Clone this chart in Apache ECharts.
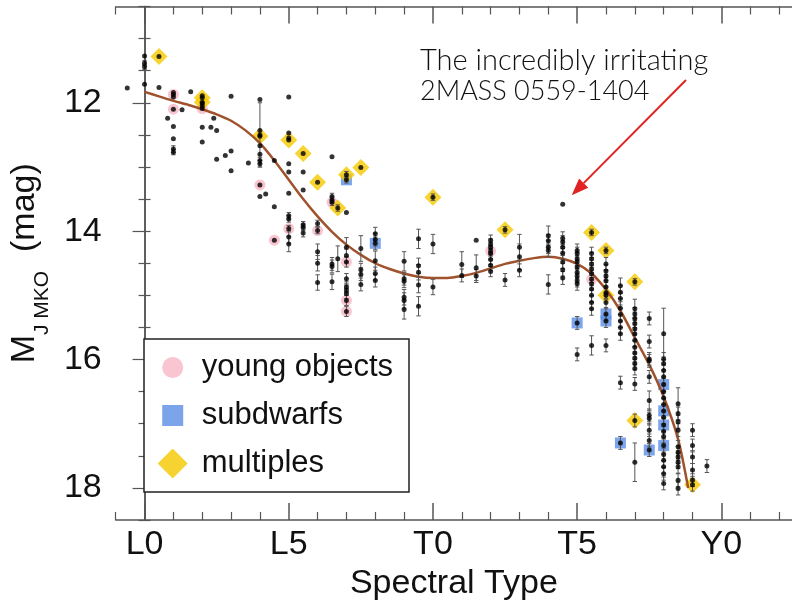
<!DOCTYPE html>
<html>
<head>
<meta charset="utf-8">
<script src="https://cdn.jsdelivr.net/npm/echarts@6/dist/echarts.min.js"></script>
<style>
  html, body { margin: 0; padding: 0; background: #fff; }
  #chart { width: 792px; height: 609px; }
</style>
</head>
<body>
<div id="chart"></div>
<script>
// Spectral type is numeric: L0 = 0, T0 = 10, Y0 = 20.
const typeTicks = [0, 5, 10, 15, 20];
const typeTickLabels = ['L0', 'L5', 'T0', 'T5', 'Y0'];
const minorTypeTicks = [-1, 1, 2, 3, 4, 6, 7, 8, 9, 11, 12, 13, 14, 16, 17, 18, 19, 21, 22];
const magLabels = [12, 14, 16, 18];

// Field dwarfs: [spectral type, M_J (MKO), error]
const fieldDwarfs = [
  [-0.6, 11.77, 0],
  [0, 11.27, 0], [0, 11.38, 0.04], [0, 11.44, 0.04], [0, 11.71, 0],
  [0.5, 11.76, 0], [0.8, 12.24, 0],
  [1, 11.84, 0], [1, 11.91, 0], [1, 12.37, 0], [1, 12.56, 0], [1, 12.72, 0.05], [1, 12.77, 0.04],
  [1.3, 12.11, 0], [1.6, 11.83, 0],
  [2, 11.89, 0], [2, 12.01, 0], [2, 12.05, 0], [2, 12.38, 0], [2, 12.61, 0],
  [2.3, 12.38, 0], [2.4, 12.24, 0], [2.5, 12.43, 0], [2.5, 12.88, 0], [2.8, 12.82, 0],
  [3, 11.90, 0], [3, 12.75, 0], [3, 13.06, 0], [3.6, 12.94, 0],
  [4, 11.95, 0], [4, 12.43, 0], [4, 12.50, 0.5], [4, 12.67, 0], [4, 12.80, 0], [4, 12.90, 0.05], [4, 12.95, 0.05], [4, 13.46, 0],
  [4.2, 13.42, 0], [4.5, 12.90, 0], [4.5, 13.62, 0],
  [5, 11.91, 0], [5, 12.47, 0], [5, 12.55, 0], [5, 12.95, 0], [5, 13.08, 0], [5, 13.41, 0], [5, 13.76, 0.05], [5, 13.81, 0.05], [5, 14.09, 0.1], [5, 14.20, 0.12],
  [5.5, 13.08, 0], [5.5, 13.36, 0], [5.5, 13.90, 0.05], [5.5, 13.94, 0.05], [5.5, 14.03, 0.06],
  [6, 13.88, 0.05], [6, 14.32, 0.12], [6, 14.50, 0.12], [6, 14.80, 0.12],
  [6.5, 12.84, 0], [6.5, 13.46, 0.05], [6.5, 13.52, 0.05], [6.5, 14.51, 0.1], [6.5, 14.55, 0.1], [6.5, 14.79, 0.12],
  [6.7, 14.43, 0.2],
  [7, 13.71, 0], [7, 14.25, 0.15], [7, 14.38, 0.1], [7, 14.74, 0.08], [7, 14.87, 0.08], [7, 14.92, 0.08], [7, 14.97, 0.08],
  [7.5, 14.27, 0.2], [7.5, 14.60, 0.1], [7.5, 14.67, 0.1], [7.5, 14.83, 0.1],
  [8, 14.04, 0.1], [8, 14.13, 0.1], [8, 14.46, 0.15], [8, 14.66, 0.1], [8, 14.77, 0.1],
  [9, 14.47, 0.15], [9, 14.74, 0.1], [9, 14.78, 0.1], [9, 15.03, 0.12], [9, 15.08, 0.12], [9, 15.22, 0.15],
  [9.5, 14.12, 0.15], [9.5, 14.54, 0.12], [9.5, 14.64, 0.12], [9.5, 14.84, 0.12], [9.5, 15.17, 0.15],
  [10, 14.20, 0.15], [10, 14.87, 0.12],
  [11, 14.52, 0.2], [11, 14.69, 0.1],
  [11.5, 14.14, 0], [11.5, 14.57, 0.2], [11.5, 14.70, 0.1],
  [12, 14.14, 0.08], [12, 14.20, 0.08], [12, 14.25, 0.08], [12, 14.35, 0.08], [12, 14.44, 0.08], [12, 14.53, 0.08], [12, 14.63, 0.08],
  [12.5, 14.76, 0.1],
  [13, 14.25, 0.2], [13, 14.40, 0.2], [13, 14.61, 0.1],
  [14, 14.07, 0.15], [14, 14.15, 0.1], [14, 14.25, 0.1], [14, 14.30, 0.1], [14, 14.83, 0.15],
  [14.5, 13.58, 0], [14.5, 14.11, 0.1], [14.5, 14.17, 0.1], [14.5, 14.25, 0.1], [14.5, 14.34, 0.1], [14.5, 14.48, 0.1], [14.5, 14.60, 0.1], [14.5, 14.73, 0.1],
  [15, 14.30, 0.1], [15, 14.35, 0.1], [15, 14.43, 0.1], [15, 14.48, 0.1], [15, 14.56, 0.1], [15, 14.64, 0.1], [15, 14.70, 0.1], [15, 14.77, 0.1], [15, 14.82, 0.1], [15, 15.92, 0.1],
  [15.5, 14.35, 0.1], [15.5, 14.43, 0.1], [15.5, 14.51, 0.1], [15.5, 14.59, 0.1], [15.5, 14.66, 0.1], [15.5, 14.82, 0.1], [15.5, 14.90, 0.1], [15.5, 15.00, 0.1], [15.5, 15.11, 0.1], [15.5, 15.21, 0.1], [15.5, 15.78, 0.15],
  [16, 14.51, 0.1], [16, 14.62, 0.1], [16, 14.70, 0.1], [16, 14.77, 0.1], [16, 14.87, 0.1], [16, 14.96, 0.1], [16, 15.11, 0.1], [16, 15.78, 0.1],
  [16.5, 14.85, 0.12], [16.5, 14.95, 0.1], [16.5, 15.05, 0.1], [16.5, 15.20, 0.1], [16.5, 15.30, 0.1], [16.5, 15.40, 0.1], [16.5, 15.50, 0.1], [16.5, 15.60, 0.1], [16.5, 16.36, 0.1],
  [17, 15.21, 0.15], [17, 15.29, 0.1], [17, 15.36, 0.1], [17, 15.44, 0.1], [17, 15.52, 0.1], [17, 15.60, 0.1], [17, 15.70, 0.1], [17, 15.81, 0.1], [17, 15.90, 0.1], [17, 15.98, 0.1], [17, 16.06, 0.1], [17, 16.14, 0.1], [17, 16.38, 0.1], [17, 17.60, 0.3],
  [17.5, 15.36, 0.1], [17.5, 15.72, 0.1], [17.5, 15.99, 0.1], [17.5, 16.02, 0.1], [17.5, 16.27, 0.1], [17.5, 16.64, 0.15], [17.5, 16.87, 0.1], [17.5, 16.92, 0.1], [17.5, 17.10, 0.1], [17.5, 17.26, 0.1],
  [18, 15.60, 0.4], [18, 15.99, 0.1], [18, 16.06, 0.1], [18, 16.17, 0.1], [18, 16.27, 0.1], [18, 16.50, 0.1], [18, 16.60, 0.1], [18, 16.70, 0.1], [18, 16.90, 0.1], [18, 17.12, 0.1], [18, 17.20, 0.1], [18, 17.48, 0.1], [18, 17.57, 0.1], [18, 17.67, 0.1], [18, 17.78, 0.1], [18, 17.93, 0.1],
  [18.5, 16.69, 0.25], [18.5, 16.84, 0.1], [18.5, 16.97, 0.1], [18.5, 17.10, 0.1], [18.5, 17.36, 0.1], [18.5, 17.45, 0.1], [18.5, 17.52, 0.1], [18.5, 17.60, 0.1], [18.5, 17.67, 0.1], [18.5, 17.88, 0.1], [18.5, 18.01, 0.1],
  [19, 17.10, 0.1], [19, 17.34, 0.1], [19, 17.52, 0.1], [19, 17.72, 0.1], [19, 17.88, 0.1],
  [19.5, 17.66, 0.1]
];

// Flagged objects: [spectral type, M_J, error]
const youngObjects = [
  [1, 11.87, 0], [1, 12.10, 0], [2, 12.09, 0], [4, 13.28, 0], [4.5, 14.14, 0], [5, 13.96, 0.05],
  [6, 13.99, 0.05], [6.5, 13.55, 0.05], [7, 14.48, 0.08], [7, 15.08, 0.08], [7, 15.25, 0.08],
  [12, 14.31, 0.08], [15.5, 14.75, 0.1]
];
const subdwarfs = [
  [7, 13.20, 0.05], [8, 14.19, 0.1], [15, 15.43, 0.1], [16, 15.29, 0.1], [16, 15.40, 0.1],
  [16.5, 17.30, 0.1], [17.5, 17.41, 0.1], [18, 16.39, 0.1], [18, 16.80, 0.1], [18, 17.02, 0.1], [18, 17.34, 0.1]
];
const multiples = [
  [0.5, 11.28, 0], [2, 11.92, 0], [2, 11.99, 0], [4, 12.52, 0], [5, 12.58, 0], [5.5, 12.79, 0],
  [6, 13.24, 0], [6.7, 13.64, 0.05], [7, 13.12, 0.05], [7.5, 13.01, 0], [10, 13.47, 0.05],
  [12.5, 13.98, 0.05], [15.5, 14.02, 0.05], [16, 14.30, 0.05], [16, 15.00, 0.05], [17, 14.79, 0.05],
  [17, 16.95, 0.1], [19, 17.95, 0.1]
];

// Polynomial relation: [spectral type, M_J]
const polyFit = [
  [0, 11.83], [0.5, 11.90], [1, 11.97], [1.5, 12.03], [2, 12.10], [2.5, 12.18], [3, 12.28],
  [3.5, 12.43], [4, 12.63], [4.5, 12.90], [5, 13.20], [5.5, 13.50], [6, 13.77], [6.5, 14.01],
  [7, 14.21], [7.5, 14.37], [8, 14.50], [8.5, 14.59], [9, 14.66], [9.5, 14.71], [10, 14.73],
  [10.5, 14.73], [11, 14.70], [11.5, 14.65], [12, 14.58], [12.5, 14.51], [13, 14.46],
  [13.5, 14.42], [14, 14.40], [14.5, 14.43], [15, 14.51], [15.5, 14.66], [16, 14.91],
  [16.5, 15.24], [17, 15.66], [17.5, 16.08], [18, 16.58], [18.5, 17.24], [18.85, 18.00]
];

// The highlighted outlier
const outlier = [14.5, 13.58];
const noteLines = ['The incredibly irritating', '2MASS 0559-1404'];

const COLORS = { young: '#F8B7C5', sub: '#5B8EE6', mult: '#F6C900', fit: '#A0522D', frame: '#555' };
const FONT = 'Liberation Sans, Arial, Helvetica, sans-serif';
const NOTE_FONT = 'Lato, DejaVu Sans, sans-serif';

const allObjects = fieldDwarfs.concat(youngObjects, subdwarfs, multiples);

function svgIcon(body) {
  const svg = '<svg xmlns="http://www.w3.org/2000/svg" width="48" height="30" viewBox="0 0 48 30">' + body + '</svg>';
  return 'image://data:image/svg+xml;charset=utf-8,' + encodeURIComponent(svg);
}
const legendIcons = {
  young: svgIcon('<circle cx="24" cy="15" r="10.5" fill="' + COLORS.young + '"/>'),
  sub: svgIcon('<rect x="13.5" y="4.5" width="21" height="21" fill="' + COLORS.sub + '"/>'),
  mult: svgIcon('<polygon points="24,0 39,15 24,30 9,15" fill="' + COLORS.mult + '"/>')
};

const chart = echarts.init(document.getElementById('chart'), null, { renderer: 'canvas' });

const xBase = { type: 'value', min: -1, max: 22.45, interval: 1, splitLine: { show: false } };
const yBase = { type: 'value', min: 10.5, max: 18.5, interval: 0.5, inverse: true, splitLine: { show: false } };
const frameLine = { show: true, lineStyle: { color: COLORS.frame, width: 1.5 } };

const minorMag = [];
for (let v = 10.5; v <= 18.5; v += 0.5) if (magLabels.indexOf(v) < 0) minorMag.push(v);

chart.setOption({
  animation: false,
  backgroundColor: '#fff',
  grid: { left: 115, right: 0, top: 6.5, bottom: 89, containLabel: false },
  xAxis: [
    Object.assign({}, xBase, {
      position: 'bottom',
      name: 'Spectral Type', nameLocation: 'middle', nameGap: 40,
      nameTextStyle: { fontFamily: FONT, fontSize: 34, color: '#111' },
      axisLine: frameLine,
      axisTick: { inside: true, length: 17, customValues: typeTicks, lineStyle: { color: COLORS.frame, width: 1.5 } },
      axisLabel: {
        customValues: typeTicks, margin: 8, fontFamily: FONT, fontSize: 34, color: '#111',
        formatter: v => typeTickLabels[typeTicks.indexOf(v)] || ''
      }
    }),
    Object.assign({}, xBase, {
      position: 'bottom', axisLine: { show: false },
      axisTick: { inside: true, length: 8, customValues: minorTypeTicks, lineStyle: { color: COLORS.frame, width: 1.2 } },
      axisLabel: { show: false }
    }),
    Object.assign({}, xBase, {
      position: 'top', axisLine: frameLine,
      axisTick: { inside: true, length: 17, customValues: typeTicks, lineStyle: { color: COLORS.frame, width: 1.5 } },
      axisLabel: { show: false }
    }),
    Object.assign({}, xBase, {
      position: 'top', axisLine: { show: false },
      axisTick: { inside: true, length: 8, customValues: minorTypeTicks, lineStyle: { color: COLORS.frame, width: 1.2 } },
      axisLabel: { show: false }
    })
  ],
  yAxis: [
    Object.assign({}, yBase, {
      position: 'left',
      name: '{m|M}{s|J MKO}{m|  (mag)}', nameLocation: 'middle', nameGap: 72,
      nameTextStyle: {
        fontFamily: FONT, fontSize: 34, color: '#111',
        rich: {
          m: { fontFamily: FONT, fontSize: 34, color: '#111' },
          s: { fontFamily: FONT, fontSize: 21, color: '#111', verticalAlign: 'bottom', padding: [0, 0, -11, 0] }
        }
      },
      axisLine: frameLine,
      axisTick: { inside: true, length: 6, lineStyle: { color: COLORS.frame, width: 1.2 } },
      axisLabel: {
        margin: 14, fontFamily: FONT, fontSize: 34, color: '#111',
        formatter: v => (magLabels.indexOf(v) >= 0 ? String(v) : '')
      }
    }),
    Object.assign({}, yBase, {
      position: 'right', axisLine: frameLine,
      axisTick: { inside: true, length: 12, customValues: magLabels, lineStyle: { color: COLORS.frame, width: 1.2 } },
      axisLabel: { show: false }
    }),
    Object.assign({}, yBase, {
      position: 'right', axisLine: { show: false },
      axisTick: { inside: true, length: 6, customValues: minorMag, lineStyle: { color: COLORS.frame, width: 1.2 } },
      axisLabel: { show: false }
    })
  ],
  legend: {
    orient: 'vertical', left: 144, top: 339,
    padding: [13, 16, 13, 4.7],
    itemWidth: 48, itemHeight: 30, itemGap: 17,
    borderColor: '#222', borderWidth: 1.5, backgroundColor: '#fff',
    selectedMode: false,
    textStyle: { fontFamily: FONT, fontSize: 31, color: '#111', lineHeight: 30 },
    data: [
      { name: 'young objects', icon: legendIcons.young },
      { name: 'subdwarfs', icon: legendIcons.sub },
      { name: 'multiples', icon: legendIcons.mult }
    ]
  },
  series: [
    {
      name: 'young objects', type: 'scatter', data: youngObjects, symbol: 'circle', symbolSize: 11,
      itemStyle: { color: COLORS.young }, z: 1, silent: true
    },
    {
      name: 'subdwarfs', type: 'scatter', data: subdwarfs, symbol: 'rect', symbolSize: 11,
      itemStyle: { color: COLORS.sub }, z: 1, silent: true
    },
    {
      name: 'multiples', type: 'scatter', data: multiples, symbol: 'diamond', symbolSize: 17,
      itemStyle: { color: COLORS.mult }, z: 1, silent: true
    },
    {
      name: 'fit', type: 'line', data: polyFit, smooth: 0.25, showSymbol: false,
      lineStyle: { color: COLORS.fit, width: 2.5 }, z: 2, silent: true
    },
    {
      name: 'errors', type: 'custom', data: allObjects.filter(d => d[2] > 0), z: 3, silent: true,
      renderItem: function (params, api) {
        const x = api.value(0), y = api.value(1), e = api.value(2);
        const p1 = api.coord([x, y - e]);
        const p2 = api.coord([x, y + e]);
        const c = 2.2;
        const st = { stroke: '#555', lineWidth: 1 };
        return {
          type: 'group',
          children: [
            { type: 'line', shape: { x1: p1[0], y1: p1[1], x2: p2[0], y2: p2[1] }, style: st },
            { type: 'line', shape: { x1: p1[0] - c, y1: p1[1], x2: p1[0] + c, y2: p1[1] }, style: st },
            { type: 'line', shape: { x1: p2[0] - c, y1: p2[1], x2: p2[0] + c, y2: p2[1] }, style: st }
          ]
        };
      }
    },
    {
      name: 'objects', type: 'scatter', data: allObjects.map(d => [d[0], d[1]]), symbol: 'circle', symbolSize: 5,
      itemStyle: { color: '#000' }, z: 4, silent: true
    }
  ]
});

// Annotation: label and arrow pointing at the outlier
const tip = chart.convertToPixel({ xAxisIndex: 0, yAxisIndex: 0 }, outlier);
const tipX = tip[0] + 9, tipY = tip[1] - 9;
const startX = 686, startY = 80;
const dx = tipX - startX, dy = tipY - startY, len = Math.hypot(dx, dy);
const ux = dx / len, uy = dy / len, nx = -uy, ny = ux;
const headL = 17, headW = 6.5;
const bx = tipX - ux * headL, by = tipY - uy * headL;
chart.setOption({
  graphic: [
    {
      type: 'text', left: 420, top: 45, silent: true,
      style: {
        text: '{a|' + noteLines[0] + '}\n{b|' + noteLines[1] + '}',
        fontFamily: NOTE_FONT, fontWeight: 300, fontSize: 29, lineHeight: 31, fill: '#111',
        rich: {
          a: { fontFamily: NOTE_FONT, fontWeight: 300, fontSize: 29, lineHeight: 31, fill: '#111' },
          b: { fontFamily: NOTE_FONT, fontWeight: 300, fontSize: 27, lineHeight: 31, fill: '#111' }
        }
      }
    },
    {
      type: 'line', silent: true,
      shape: { x1: startX, y1: startY, x2: bx, y2: by },
      style: { stroke: '#E02424', lineWidth: 2 }
    },
    {
      type: 'polygon', silent: true,
      shape: { points: [[tipX, tipY], [bx + nx * headW, by + ny * headW], [bx - nx * headW, by - ny * headW]] },
      style: { fill: '#E02424' }
    }
  ]
});
</script>
</body>
</html>
